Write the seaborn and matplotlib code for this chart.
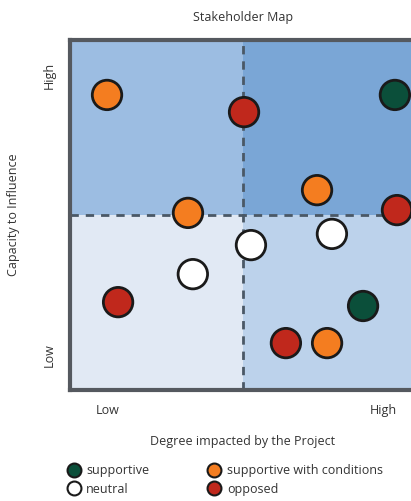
import matplotlib
matplotlib.use('Agg')
import matplotlib.pyplot as plt
from matplotlib.lines import Line2D
import seaborn as sns
import pandas as pd

# 이해관계자 위치 (영향받는 정도, 영향력)
impact = [1.07, 5.03, 9.39, 7.14, 3.41, 9.45, 7.57, 5.23, 3.55, 1.39, 8.47, 6.24, 7.43]
influence = [8.43, 7.94, 8.43, 5.71, 5.06, 5.14, 4.46, 4.14, 3.31, 2.51, 2.40, 1.34, 1.34]
stance = ['supportive with conditions', 'opposed', 'supportive', 'supportive with conditions',
          'supportive with conditions', 'opposed', 'neutral', 'neutral', 'neutral', 'opposed',
          'supportive', 'opposed', 'supportive with conditions']

categories = ['supportive', 'neutral', 'supportive with conditions', 'opposed']
colors = ['#0b4f3a', '#ffffff', '#f47d20', '#c0281c']
palette = dict(zip(categories, colors))

df = pd.DataFrame({'impact': impact, 'influence': influence, 'stance': stance})

sns.set_style('white')
plt.rcParams['font.family'] = ['Open Sans', 'DejaVu Sans']
txt = '#333333'

fig = plt.figure(figsize=(4.11, 5.01), dpi=100)
ax = fig.add_axes([70 / 411, 111 / 501, 346 / 411, 350 / 501])

# 사분면 배경
ax.axvspan(0, 5, ymin=0.5, ymax=1, color='#9cbde2', lw=0, zorder=0)
ax.axvspan(5, 10, ymin=0.5, ymax=1, color='#7aa6d6', lw=0, zorder=0)
ax.axvspan(0, 5, ymin=0, ymax=0.5, color='#e1e9f4', lw=0, zorder=0)
ax.axvspan(5, 10, ymin=0, ymax=0.5, color='#bcd2eb', lw=0, zorder=0)
ax.axvline(5, color='#4a5866', lw=2, ls=(0, (3, 2.5)), zorder=1)
ax.axhline(5, color='#4a5866', lw=2, ls=(0, (3, 2.5)), zorder=1)

sns.scatterplot(data=df, x='impact', y='influence', hue='stance', palette=palette,
                hue_order=categories, s=450, edgecolor='#1a1a1a', linewidth=2,
                legend=False, ax=ax, zorder=3, clip_on=False)

ax.set_xlim(0, 10)
ax.set_ylim(0, 10)
for s in ax.spines.values():
    s.set_color('#55595f')
    s.set_linewidth(3)

ax.set_xticks([1.1, 9.05])
ax.set_xticklabels(['Low', 'High'], color=txt, fontsize=9)
ax.set_yticks([1.0, 9.0])
ax.set_yticklabels(['Low', 'High'], color=txt, fontsize=9, rotation=90, va='center')
ax.tick_params(length=0, pad=10)
ax.set_xlabel('Degree impacted by the Project', color=txt, fontsize=9, labelpad=12)
ax.set_ylabel('Capacity to Influence', color=txt, fontsize=9, labelpad=16)
ax.xaxis.set_label_coords((243 - 70) / 346, -(435 - 390) / 350)
ax.yaxis.set_label_coords(-(70 - 20) / 346, (390 - 215) / 350)

fig.text(243 / 411, 1 - 17 / 501, 'Stakeholder Map', ha='center', va='center',
         fontsize=9, color=txt)

handles = [Line2D([], [], marker='o', ls='', markersize=10, markerfacecolor=palette[c],
                  markeredgecolor='#1a1a1a', markeredgewidth=1.5, label=c) for c in categories]
fig.legend(handles=handles, ncol=2, frameon=False, loc='center left',
           bbox_to_anchor=(55 / 411, 1 - 480 / 501), fontsize=9, labelcolor=txt,
           handletextpad=0.4, columnspacing=4.6, labelspacing=0.45, handlelength=1.2)

fig.savefig('out.png', dpi=100)
